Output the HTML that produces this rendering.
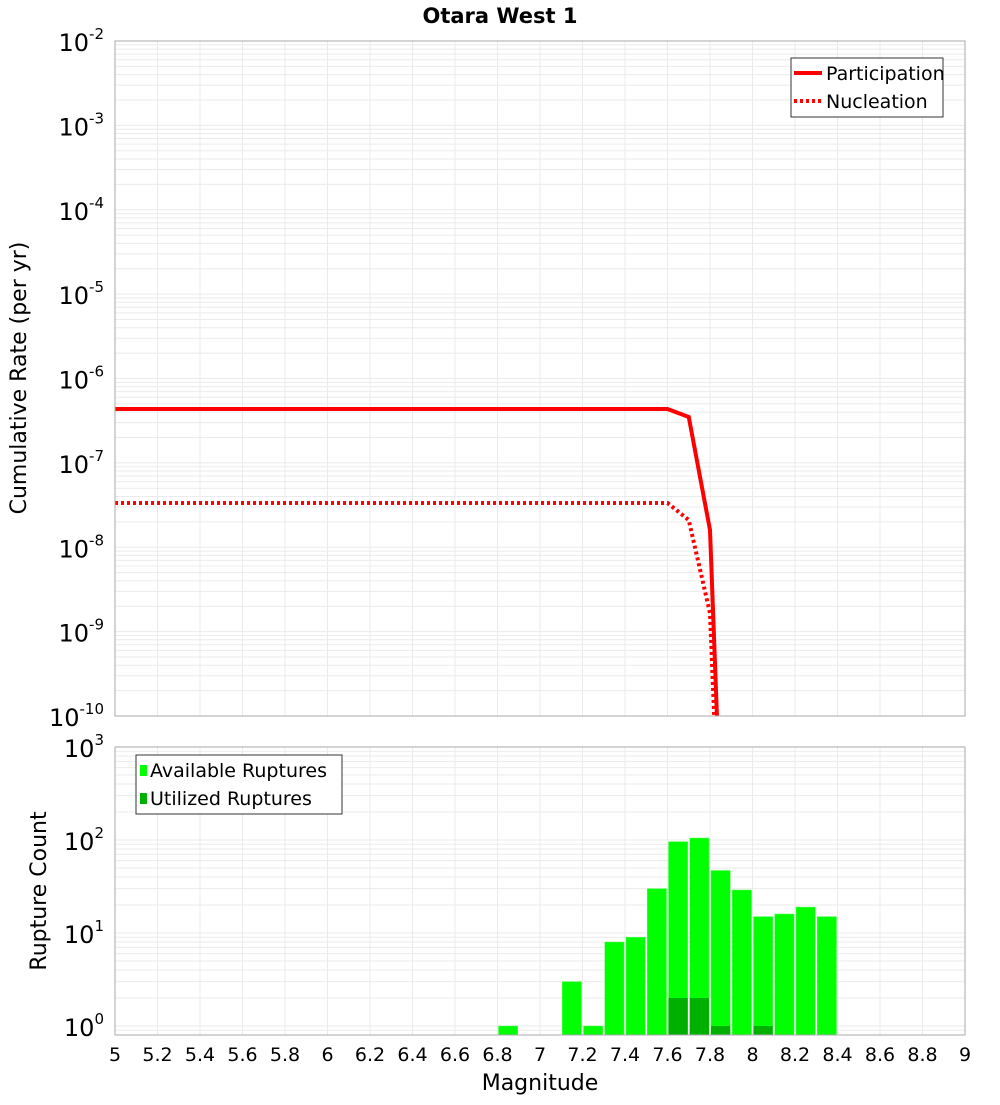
<!DOCTYPE html>
<html><head><meta charset="utf-8"><style>
body{margin:0;background:#fff;font-family:"Liberation Sans",sans-serif}
svg text{font-family:"DejaVu Sans","Liberation Sans",sans-serif}
</style></head><body>
<svg id="c" width="1000" height="1100" xmlns="http://www.w3.org/2000/svg">
<text x="500" y="23" text-anchor="middle" font-size="21" font-weight="bold">Otara West 1</text>
<g id="topg"></g>
<g id="botg"></g>
<text transform="translate(26,378) rotate(-90)" text-anchor="middle" font-size="22">Cumulative Rate (per yr)</text>
<text transform="translate(46,891) rotate(-90)" text-anchor="middle" font-size="22">Rupture Count</text>
<text x="540" y="1090" text-anchor="middle" font-size="22">Magnitude</text>
</svg>
<script>
const magGrid=[5,7.6,7.7,7.8,7.9];
const partRates=[4.35e-7,4.35e-7,3.5e-7,1.6e-8,3e-15];
const nuclMags=[5,7.6,7.7,7.8,7.9];
const nuclRates=[3.34e-8,3.34e-8,2.1e-8,1.65e-9,1e-15];
const binMags=[6.8,7.1,7.2,7.3,7.4,7.5,7.6,7.7,7.8,7.9,8.0,8.1,8.2,8.3];
const availCounts=[1,3,1,8,9,30,96,105,47,29,15,16,19,15];
const usedMags=[7.6,7.7,7.8,8.0];
const usedCounts=[2,2,1,1];
const xTicks=[5,5.2,5.4,5.6,5.8,6,6.2,6.4,6.6,6.8,7,7.2,7.4,7.6,7.8,8,8.2,8.4,8.6,8.8,9];
const topExps=[-2,-3,-4,-5,-6,-7,-8,-9,-10];
const botExps=[3,2,1,0];

const NS="http://www.w3.org/2000/svg";
const X0=115,X1=965;
const xs=m=>X0+(m-5)/4*(X1-X0);
const T0=41,T1=716;
const yt=v=>T0+(-2-Math.log10(v))/8*(T1-T0);
const B0=747,B1=1035;
const yb=v=>1026-93*Math.log10(v);
function el(p,t,a){const e=document.createElementNS(NS,t);for(const k in a)e.setAttribute(k,a[k]);p.appendChild(e);return e;}
const topG=document.getElementById('topg'),botG=document.getElementById('botg');

for(let d=-10;d<-2;d++)for(let k=1;k<10;k++){const y=yt(k*Math.pow(10,d));
 const l=el(topG,'line',{x1:X0,x2:X1,y1:y,y2:y,stroke:'#ebebeb','stroke-width':1});
 
 }
xTicks.forEach(m=>{const l=el(topG,'line',{x1:xs(m),x2:xs(m),y1:T0,y2:T1,stroke:'#ebebeb'});
 
 
 const l2=el(botG,'line',{x1:xs(m),x2:xs(m),y1:B0,y2:B1,stroke:'#ebebeb'});
 
 });
for(let d=-1;d<3;d++)for(let k=1;k<10;k++){const y=yb(k*Math.pow(10,d));if(y<B0||y>B1)continue;
 const l=el(botG,'line',{x1:X0,x2:X1,y1:y,y2:y,stroke:'#ebebeb'});
 
 }

const defs=el(topG,'defs',{});const cp=el(defs,'clipPath',{id:'tc'});el(cp,'rect',{x:X0,y:T0,width:X1-X0,height:T1-T0});
function pl(ms,vs,dash,name){const p=el(topG,'polyline',{points:ms.map((m,i)=>xs(m)+','+yt(vs[i])).join(' '),fill:'none',stroke:'#ff0000','stroke-width':4,'clip-path':'url(#tc)'});
 if(dash)p.setAttribute('stroke-dasharray','3,3');
 
 }
pl(magGrid,partRates,false,'participation-line');
pl(nuclMags,nuclRates,true,'nucleation-line');
el(topG,'rect',{x:X0,y:T0,width:X1-X0,height:T1-T0,fill:'none',stroke:'#aaa'});
topExps.forEach(e=>{const t=el(topG,'text',{x:104,y:yt(Math.pow(10,e))+10,'text-anchor':'end','font-size':24});
 
 
 t.innerHTML='10<tspan dy="-12" font-size="15">'+e+'</tspan>';});
const lg=el(topG,'g',{});


el(lg,'rect',{x:791,y:58,width:152,height:59,fill:'#fff',stroke:'#333'});
el(lg,'line',{x1:794,x2:822,y1:73,y2:73,stroke:'#f00','stroke-width':4});
el(lg,'line',{x1:794,x2:822,y1:101,y2:101,stroke:'#f00','stroke-width':4,'stroke-dasharray':'3,3'});
el(lg,'text',{x:826,y:80,'font-size':19}).textContent='Participation';
el(lg,'text',{x:826,y:108,'font-size':19}).textContent='Nucleation';

const bw=0.1*(X1-X0)/4;
binMags.forEach((m,i)=>{const y=yb(availCounts[i]);const r=el(botG,'rect',{x:xs(m)+1,y:y,width:bw-2,height:B1-y,fill:'#00ff00',stroke:'#5f5','stroke-width':0.5});
 
 });
usedMags.forEach((m,i)=>{const y=yb(usedCounts[i]);const r=el(botG,'rect',{x:xs(m)+1,y:y,width:bw-2,height:B1-y,fill:'#00b000'});
 
 });
el(botG,'rect',{x:X0,y:B0,width:X1-X0,height:B1-B0,fill:'none',stroke:'#aaa'});
botExps.forEach(e=>{const t=el(botG,'text',{x:104,y:yb(Math.pow(10,e))+10,'text-anchor':'end','font-size':24});
 
 
 t.innerHTML='10<tspan dy="-12" font-size="15">'+e+'</tspan>';});
xTicks.forEach(m=>{const t=el(botG,'text',{x:xs(m),y:1061,'text-anchor':'middle','font-size':19});
 
 
 t.textContent=String(m);});
const lb=el(botG,'g',{});


el(lb,'rect',{x:136,y:755,width:206,height:59,fill:'#fff',stroke:'#333'});
el(lb,'rect',{x:140,y:765,width:7,height:11,fill:'#0f0'});
el(lb,'rect',{x:140,y:793,width:7,height:11,fill:'#00b000'});
el(lb,'text',{x:150,y:777,'font-size':19}).textContent='Available Ruptures';
el(lb,'text',{x:150,y:805,'font-size':19}).textContent='Utilized Ruptures';
</script>
</body></html>
